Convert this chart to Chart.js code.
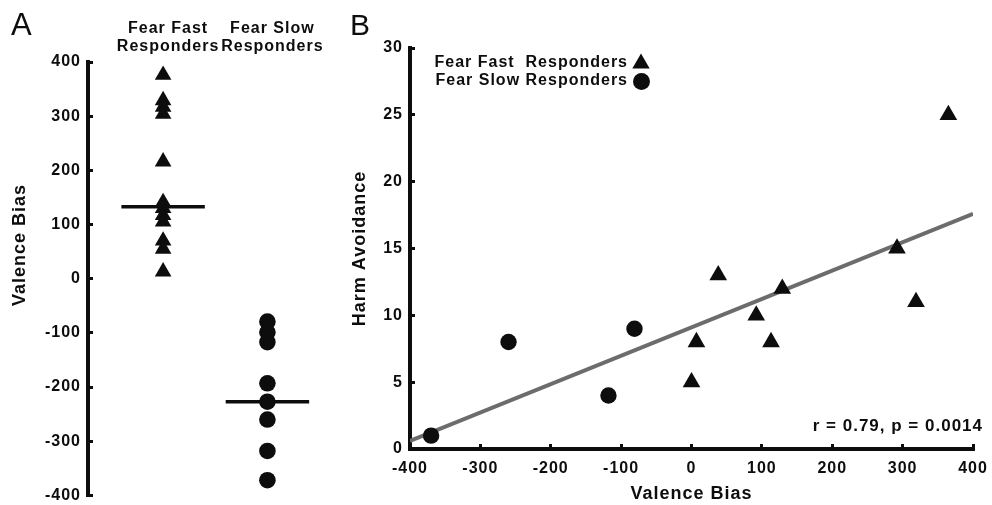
<!DOCTYPE html>
<html><head><meta charset="utf-8">
<script src="https://cdn.jsdelivr.net/npm/chart.js@4.4.1/dist/chart.umd.min.js"></script>
<style>
html,body{margin:0;padding:0;background:#fff;}
#wrap{position:relative;width:992px;height:505px;overflow:hidden;background:#fff;}
canvas{position:absolute;top:0;}
</style></head><body>
<div id="wrap">
<canvas id="chartA" width="340" height="505" style="left:0px"></canvas>
<canvas id="chartB" width="652" height="505" style="left:340px"></canvas>
</div>
<script>
// ---------- Panel A data ----------
const groupLabels = [['Fear Fast', 'Responders'], ['Fear Slow', 'Responders']];
const fastValenceBias = [376, 329, 317, 304, 216, 141, 130, 117, 105, 70, 55, 13];
const slowValenceBias = [-79, -99, -117, -193, -227, -260, -318, -372];
const groupMedians = [133, -227];
const panelATitle = 'Valence Bias';

// ---------- Panel B data ----------
const fastBias = [0, 7, 38, 92, 113, 129, 292, 319, 365];
const fastHarm = [5, 8, 13, 10, 8, 12, 15, 11, 25];
const slowBias = [-370, -260, -118, -81];
const slowHarm = [1, 8, 4, 9];
const fitBias = [-400, 400];
const fitHarm = [0.6, 17.6];
const legendLabels = ['Fear Fast  Responders', 'Fear Slow Responders'];
const statText = 'r = 0.79, p = 0.0014';
const panelBXTitle = 'Valence Bias';
const panelBYTitle = 'Harm Avoidance';

const INK = '#0d0d0d';
const FAM = '"Liberation Sans", Arial, Helvetica, sans-serif';
Chart.defaults.font.family = FAM;
Chart.defaults.font.weight = 'bold';
Chart.defaults.color = INK;

const spacingPlugin = {
  id: 'spacing',
  beforeDraw(chart) { chart.ctx.letterSpacing = '1px'; }
};

function noPad(s) { s.paddingTop = 0; s.paddingBottom = 0; s.paddingLeft = 0; s.paddingRight = 0; }

function drawText(ctx, txt, x, y, font, align, rot, spacing) {
  ctx.save();
  ctx.letterSpacing = spacing || '1px';
  ctx.font = font;
  ctx.fillStyle = INK;
  ctx.textAlign = align;
  ctx.textBaseline = 'middle';
  ctx.translate(x, y);
  if (rot) ctx.rotate(rot);
  ctx.fillText(txt, 0, 0);
  ctx.restore();
}

// ---------- Panel A ----------
const halfW = 0.4;
const medianSets = groupMedians.map((m, i) => ({
  data: [{x: i + 1 - halfW, y: m}, {x: i + 1 + halfW, y: m}],
  showLine: true, pointRadius: 0, borderColor: INK, borderWidth: 3.5
}));

const textA = {
  id: 'textA',
  afterDraw(chart) {
    const ctx = chart.ctx;
    ctx.save();
    ctx.letterSpacing = '0px';
    ctx.font = 'normal 31px ' + FAM;
    ctx.fillStyle = INK;
    ctx.textAlign = 'left';
    ctx.textBaseline = 'alphabetic';
    ctx.fillText('A', 11, 35);
    ctx.restore();
    drawText(ctx, panelATitle, 20, 245, 'bold 18px ' + FAM, 'center', -Math.PI / 2);
  }
};

new Chart(document.getElementById('chartA'), {
  type: 'scatter',
  data: {
    datasets: [
      { data: fastValenceBias.map(v => ({x: 1, y: v})), pointStyle: 'triangle', pointRadius: 9.6,
        backgroundColor: INK, borderColor: INK, borderWidth: 0 },
      { data: slowValenceBias.map(v => ({x: 2, y: v})), pointStyle: 'circle', pointRadius: 8.3,
        backgroundColor: INK, borderColor: INK, borderWidth: 0 },
      ...medianSets
    ]
  },
  options: {
    responsive: false, animation: false, events: [],
    layout: { padding: {top: 0, right: 10, bottom: 5, left: 0} },
    plugins: { legend: {display: false}, tooltip: {enabled: false} },
    scales: {
      x: {
        type: 'linear', position: 'top', min: 0.28, max: 2.6,
        afterBuildTicks: s => { s.ticks = [{value: 1}, {value: 2}]; },
        afterFit: s => { s.height = 62; noPad(s); },
        grid: {display: false, drawTicks: false},
        border: {display: false},
        ticks: {
          callback: v => groupLabels[Math.round(v) - 1],
          font: {size: 16, weight: 'bold', lineHeight: 1.1},
          padding: 7, labelOffset: 5, maxRotation: 0, autoSkip: false, color: INK
        }
      },
      y: {
        min: -400, max: 400,
        afterFit: s => { s.width = 88; noPad(s); },
        grid: {display: true, drawOnChartArea: false, drawTicks: true, tickLength: -5, lineWidth: 3, color: INK},
        border: {display: true, width: 4, color: INK},
        ticks: { stepSize: 100, font: {size: 16, weight: 'bold'}, padding: 12, color: INK }
      }
    }
  },
  plugins: [spacingPlugin, textA]
});

// ---------- Panel B ----------
const textB = {
  id: 'textB',
  afterDraw(chart) {
    const ctx = chart.ctx;
    ctx.save();
    ctx.letterSpacing = '0px';
    ctx.font = 'normal 30px ' + FAM;
    ctx.fillStyle = INK;
    ctx.textAlign = 'left';
    ctx.textBaseline = 'alphabetic';
    ctx.fillText('B', 10, 35);
    ctx.restore();
    const lx = 288, ly = [62.5, 81];
    legendLabels.forEach((t, i) => drawText(ctx, t, lx, ly[i], 'bold 16px ' + FAM, 'right', 0));
    ctx.save();
    ctx.fillStyle = INK;
    const tx = 301, ty = 63.5, r = 10;
    ctx.beginPath();
    ctx.moveTo(tx, ty - r);
    ctx.lineTo(tx + r * Math.sin(2 * Math.PI / 3), ty + r / 2);
    ctx.lineTo(tx - r * Math.sin(2 * Math.PI / 3), ty + r / 2);
    ctx.closePath();
    ctx.fill();
    ctx.beginPath();
    ctx.arc(301.5, 81.5, 8.5, 0, Math.PI * 2);
    ctx.fill();
    ctx.restore();
    drawText(ctx, statText, 643, 426.5, 'bold 17px ' + FAM, 'right', 0);
  }
};

new Chart(document.getElementById('chartB'), {
  type: 'scatter',
  data: {
    datasets: [
      { label: legendLabels[0], data: fastBias.map((v, i) => ({x: v, y: fastHarm[i]})),
        pointStyle: 'triangle', pointRadius: 10.2, backgroundColor: INK, borderColor: INK, borderWidth: 0 },
      { label: legendLabels[1], data: slowBias.map((v, i) => ({x: v, y: slowHarm[i]})),
        pointStyle: 'circle', pointRadius: 8.2, backgroundColor: INK, borderColor: INK, borderWidth: 0 },
      { label: 'fit', data: fitBias.map((v, i) => ({x: v, y: fitHarm[i]})),
        showLine: true, pointRadius: 0, borderColor: '#6c6c6c', borderWidth: 4 }
    ]
  },
  options: {
    responsive: false, animation: false, events: [],
    layout: { padding: {top: 48, right: 19, bottom: 0, left: 0} },
    plugins: { legend: {display: false}, tooltip: {enabled: false} },
    scales: {
      x: {
        type: 'linear', position: 'bottom', min: -400, max: 400,
        afterFit: s => { s.height = 56; noPad(s); },
        grid: {display: true, drawOnChartArea: false, drawTicks: true, tickLength: -5, lineWidth: 3, color: INK},
        border: {display: true, width: 4, color: INK},
        ticks: { stepSize: 100, font: {size: 16, weight: 'bold'}, padding: 14.5, maxRotation: 0, color: INK },
        title: { display: true, text: panelBXTitle, font: {size: 18, weight: 'bold'}, padding: {top: 0, bottom: 0}, color: INK }
      },
      y: {
        min: 0, max: 30,
        afterFit: s => { s.width = 70; noPad(s); },
        grid: {display: true, drawOnChartArea: false, drawTicks: true, tickLength: -5, lineWidth: 3, color: INK},
        border: {display: true, width: 4, color: INK},
        ticks: { stepSize: 5, font: {size: 16, weight: 'bold'}, padding: 12, color: INK },
        title: { display: true, text: panelBYTitle, font: {size: 18, weight: 'bold'}, padding: {top: 9.2, bottom: 0}, color: INK }
      }
    }
  },
  plugins: [spacingPlugin, textB]
});
</script>
</body></html>
